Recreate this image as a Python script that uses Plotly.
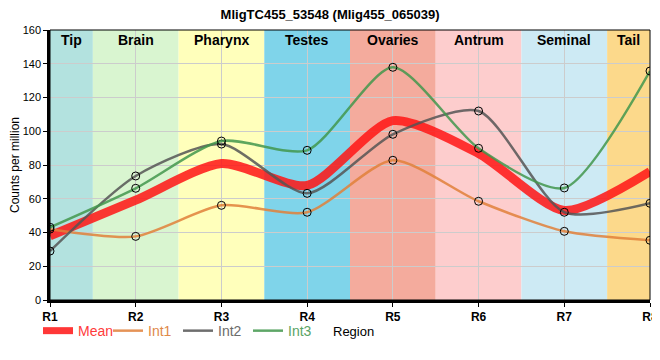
import plotly.graph_objects as go

regions = ["R1", "R2", "R3", "R4", "R5", "R6", "R7", "R8"]
tissues = ["Tip", "Brain", "Pharynx", "Testes", "Ovaries", "Antrum", "Seminal", "Tail"]
tissue_colors = ["#b3e2df", "#d9f5d0", "#ffffbb", "#7fd4ea", "#f4ab9d", "#fdcdcd", "#cdeaf4", "#fcd98b"]

int1 = [42, 37.7, 56.1, 52.0, 82.8, 58.5, 40.7, 35.4]
int2 = [29, 73.5, 92.4, 63.2, 98.2, 112.0, 52.0, 57.3]
int3 = [43.1, 66.2, 94.2, 88.7, 137.9, 89.9, 66.4, 135.7]
mean = [(a + b + c) / 3 for a, b, c in zip(int1, int2, int3)]

xs = list(range(1, len(regions) + 1))

fig = go.Figure()

series = [
    ("Mean", mean, "rgba(255,20,20,0.85)", "#ff3b3b", 9, False),
    ("Int1", int1, "rgba(224,128,58,0.85)", "#e0894a", 2.5, True),
    ("Int2", int2, "rgba(85,85,85,0.85)", "#6b6b6b", 2.5, True),
    ("Int3", int3, "rgba(66,150,76,0.85)", "#5aa466", 2.5, True),
]
for name, ys, col, tcol, w, mk in series:
    fig.add_trace(go.Scatter(
        x=xs, y=ys,
        mode="lines+markers" if mk else "lines",
        name=name, showlegend=False,
        line=dict(color=col, width=w, shape="spline", smoothing=0.7),
        marker=dict(size=8, color="rgba(0,0,0,0)", line=dict(color="black", width=1)),
        hoverinfo="x+y",
    ))
# legend-only entries (line samples, no markers)
for name, ys, col, tcol, w, mk in series:
    fig.add_trace(go.Scatter(
        x=[None], y=[None], mode="lines",
        name=f"<span style='color:{tcol}'>{name}</span>",
        line=dict(color=col, width=(7 if not mk else 2.5)),
        showlegend=True, hoverinfo="skip",
    ))

shapes = []
annotations = []
n = len(regions)
for i, (t, c) in enumerate(zip(tissues, tissue_colors)):
    x0 = max(1, xs[i] - 0.5)
    x1 = min(n, xs[i] + 0.5)
    shapes.append(dict(type="rect", xref="x", yref="paper", x0=x0, x1=x1, y0=0, y1=1,
                       fillcolor=c, line=dict(width=0), layer="below"))
    annotations.append(dict(x=(x0 + x1) / 2, y=1, xref="x", yref="paper", yshift=-10,
                            text=f"<b>{t}</b>", showarrow=False, yanchor="middle",
                            font=dict(size=14, color="black", family="Liberation Sans, Arial")))

shapes.append(dict(type="rect", xref="paper", yref="paper", x0=0, x1=1, y0=0, y1=1,
                   line=dict(color="black", width=1), fillcolor="rgba(0,0,0,0)", layer="above"))

annotations.append(dict(x=0.5, y=-0.115, xref="paper", yref="paper", text="Region",
                        showarrow=False, yanchor="middle", xanchor="left", xshift=-19,
                        font=dict(size=13, color="black", family="Liberation Sans, Arial")))

# the page body adds an 8px offset, so the figure is 652x352 with shifted margins
fig.update_layout(
    width=652, height=352,
    margin=dict(l=42, r=10, t=22, b=60, autoexpand=False),
    paper_bgcolor="white", plot_bgcolor="white",
    font=dict(family="Liberation Sans, Arial", color="black"),
    title=dict(text="<b>MligTC455_53548 (Mlig455_065039)</b>", x=0.494, xanchor="center",
               y=1, yref="container", yanchor="top", pad=dict(t=2),
               font=dict(size=13, color="black")),
    shapes=shapes,
    annotations=annotations,
    showlegend=True,
    legend=dict(orientation="h", x=-0.02, xanchor="left", y=-0.115, yanchor="middle",
                font=dict(size=14), itemwidth=30, entrywidth=25, entrywidthmode="pixels",
                tracegroupgap=0, bgcolor="rgba(0,0,0,0)"),
    xaxis=dict(range=[1, n], tickmode="array", tickvals=xs, ticktext=[f"<b>{r}</b>" for r in regions],
               showgrid=True, gridcolor="#cccccc", gridwidth=1,
               showline=True, linecolor="black", linewidth=2.5,
               ticks="outside", ticklen=4, tickcolor="black", automargin=False,
               tickfont=dict(size=12, color="black"), zeroline=False, fixedrange=True),
    yaxis=dict(range=[0, 160], tickmode="array", tickvals=list(range(0, 161, 20)),
               showgrid=True, gridcolor="#cccccc", gridwidth=1,
               showline=True, linecolor="black", linewidth=2.5,
               ticks="outside", ticklen=4, tickcolor="black", automargin=False,
               tickfont=dict(size=11, color="black"), zeroline=False,
               title=dict(text="Counts per million", font=dict(size=12), standoff=2),
               fixedrange=True),
)

fig.write_html("out.html")
